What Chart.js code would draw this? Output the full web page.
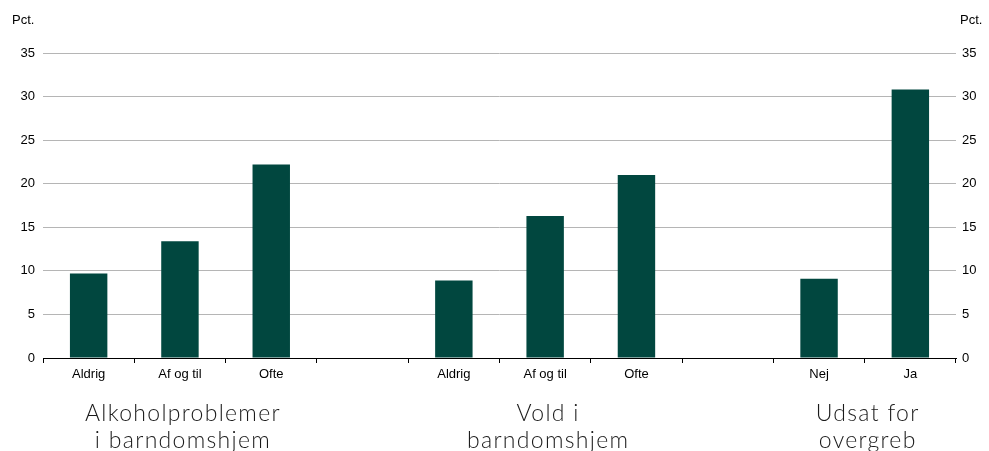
<!DOCTYPE html>
<html>
<head>
<meta charset="utf-8">
<script src="https://cdn.jsdelivr.net/npm/chart.js@4.4.1/dist/chart.umd.min.js"></script>
<style>
    html, body { margin: 0; padding: 0; background: #fff; }
    #wrap { width: 989px; height: 451px; position: relative; }
</style>
</head>
<body>
<div id="wrap"><canvas id="chart"></canvas></div>
<script>
// categories, with empty slots between groups
const categories = ['Aldrig', 'Af og til', 'Ofte', '', 'Aldrig', 'Af og til', 'Ofte', '', 'Nej', 'Ja'];
const values = [9.7, 13.4, 22.2, null, 8.9, 16.3, 21.0, null, 9.1, 30.8];
const yTicks = [0, 5, 10, 15, 20, 25, 30, 35];
const groupLabels = [['Alkoholproblemer', 'i barndomshjem'], ['Vold i', 'barndomshjem'], ['Udsat for', 'overgreb']];
const groupCenters = [1, 5, 8.5];
const unitLabel = 'Pct.';

const barColor = '#01473f';

// draws the "Pct." labels and the big group names under the axis
const extraText = {
    id: 'extraText',
    afterDraw(chart) {
        let ctx = chart.ctx;
        let x = chart.scales.x;
        ctx.save();
        ctx.fillStyle = '#000';
        ctx.font = '13px "Liberation Sans", Arial, sans-serif';
        ctx.textBaseline = 'middle';
        ctx.textAlign = 'left';
        ctx.fillText(unitLabel, 12, 20);
        ctx.fillText(unitLabel, 960, 20);

        ctx.font = '300 23px Lato, "Open Sans", sans-serif';
        ctx.letterSpacing = '1.3px';
        ctx.fillStyle = '#1a1a1a';
        ctx.textAlign = 'center';
        groupLabels.forEach(function(lines, i) {
            let cx = x.getPixelForValue(groupCenters[i]) + 3;
            lines.forEach(function(line, j) {
                ctx.fillText(line, cx, 414 + j * 27);
            });
        });
        ctx.restore();
    }
};

const ctx = document.getElementById('chart');
new Chart(ctx, {
    type: 'bar',
    data: {
        labels: categories,
        datasets: [{
            data: values,
            backgroundColor: barColor,
            borderWidth: 0,
            barPercentage: 0.41,
            categoryPercentage: 1
        }]
    },
    options: {
        responsive: true,
        maintainAspectRatio: false,
        animation: false,
        layout: { padding: { top: 53, left: 0, right: 0, bottom: 0 } },
        plugins: { legend: { display: false }, tooltip: { enabled: false } },
        scales: {
            x: {
                grid: { display: true, offset: true, drawOnChartArea: false, color: '#000', tickLength: 5 },
                border: { display: true, color: '#000', width: 1 },
                ticks: { color: '#000', font: { family: '"Liberation Sans", Arial', size: 13 }, padding: 4, maxRotation: 0, autoSkip: false },
                afterFit: function(scale) { scale.height = 93; }
            },
            y: {
                position: 'left',
                min: 0, max: 35,
                afterBuildTicks: function(scale) { scale.ticks = yTicks.map(v => ({ value: v })); },
                grid: { color: '#b5b5b5', lineWidth: 1, drawTicks: false },
                border: { display: false },
                ticks: { color: '#000', font: { family: '"Liberation Sans", Arial', size: 13 }, padding: 8 },
                afterFit: function(scale) { scale.width = 43; }
            },
            y2: {
                position: 'right',
                min: 0, max: 35,
                afterBuildTicks: function(scale) { scale.ticks = yTicks.map(v => ({ value: v })); },
                grid: { display: false, drawTicks: false },
                border: { display: false },
                ticks: { color: '#000', font: { family: '"Liberation Sans", Arial', size: 13 }, padding: 6 },
                afterFit: function(scale) { scale.width = 33; }
            }
        }
    },
    plugins: [extraText]
});
</script>
</body>
</html>
